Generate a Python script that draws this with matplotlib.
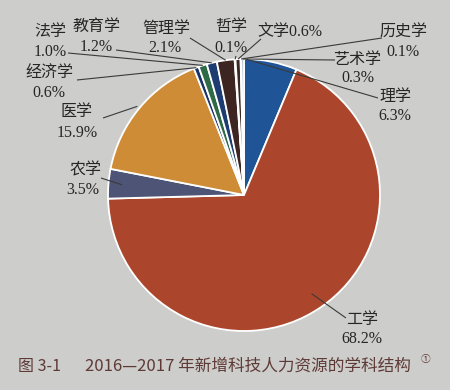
import matplotlib
matplotlib.use("Agg")
import matplotlib.pyplot as plt
import numpy as np

# ---- data ----
categories = ["理学", "工学", "农学", "医学", "经济学", "法学", "教育学",
              "管理学", "哲学", "文学", "历史学", "艺术学"]
shares = [6.3, 68.2, 3.5, 15.9, 0.6, 1.0, 1.2, 2.1, 0.1, 0.6, 0.1, 0.3]
share_labels = ["6.3%", "68.2%", "3.5%", "15.9%", "0.6%", "1.0%", "1.2%",
                "2.1%", "0.1%", "0.6%", "0.1%", "0.3%"]
title_prefix = "图 3-1"
title_text = "2016—2017 年新增科技人力资源的学科结构"

# ---- styles ----
colors = ["#1f5596", "#ab462d", "#4d5475", "#cf8c36", "#1b3468", "#2d6a45",
          "#1c3c72", "#3d2522", "#ececec", "#3a2a25", "#e4e4e4", "#9aa7b8"]
bg = "#cdcdcb"
W, H = 450, 390
CX, CY, R = 244, 195, 136

def P(x, y):
    return x, H - y

fig = plt.figure(figsize=(4.5, 3.9), dpi=100, facecolor=bg)
ax = fig.add_axes([0, 0, 1, 1])
ax.set_facecolor(bg)

wedges, _ = ax.pie(shares, colors=colors, startangle=90, counterclock=False,
                   center=P(CX, CY), radius=R, frame=True,
                   wedgeprops=dict(edgecolor="white", linewidth=1.3))
ax.set_xlim(0, W)
ax.set_ylim(0, H)
ax.set_aspect("equal")
ax.axis("off")

fam = ["Liberation Serif", "Noto Sans CJK SC"]
tc = "#262626"
fs = 11.5

# label layout: (name xy, value xy or None for inline, line start, angle frac, radial frac)
layout = {
    "理学":   ((395, 97), (395, 116), (378, 98), 0.97, 1.0),
    "工学":   ((362, 320), (362, 339), (346, 318), 0.5, 0.88),
    "农学":   ((85, 170), (83, 190), (101, 178), 0.5, 0.9),
    "医学":   ((77, 112), (77, 133), (103, 118), 0.5, 1.02),
    "经济学": ((49, 73), (49, 93), (77, 80), 0.5, 1.0),
    "法学":   ((50, 32), (50, 52), (68, 53), 0.5, 1.0),
    "教育学": ((96, 27), (96, 47), (116, 50), 0.5, 1.0),
    "管理学": ((166, 29), (165, 48), (190, 38), 0.5, 1.0),
    "哲学":   ((231, 27), (231, 48), (236, 56), 0.5, 1.0),
    "文学":   ((290, 32), None, (261, 39), 0.5, 1.0),
    "历史学": ((403, 33), (403, 52), (382, 38), 0.5, 1.0),
    "艺术学": ((357, 60), (358, 78), (335, 60), 0.5, 1.0),
}

for w, name, lab in zip(wedges, categories, share_labels):
    nxy, vxy, ls, af, rf = layout[name]
    if vxy is None:
        ax.text(*P(*nxy), name + lab, ha="center", va="center",
                fontsize=fs, family=fam, color=tc)
    else:
        ax.text(*P(*nxy), name, ha="center", va="center",
                fontsize=fs, family=fam, color=tc)
        ax.text(*P(*vxy), lab, ha="center", va="center",
                fontsize=fs, family=fam, color=tc)
    th = np.deg2rad(w.theta1 + af * (w.theta2 - w.theta1))
    ex = w.center[0] + rf * w.r * np.cos(th)
    ey = w.center[1] + rf * w.r * np.sin(th)
    sx, sy = P(*ls)
    ax.plot([sx, ex], [sy, ey], color="#3a3a3a", lw=0.8, solid_capstyle="butt")

title_color = "#5e3a36"
tfam = ["Noto Sans CJK SC", "DejaVu Sans"]
ax.text(*P(18, 366), title_prefix, ha="left", va="center", fontsize=11.5,
        family=tfam, color=title_color)
ax.text(*P(85, 366), title_text, ha="left", va="center", fontsize=12,
        family=tfam, color=title_color)
ax.text(*P(426, 359), "①", ha="center", va="center", fontsize=7,
        family=tfam, color=title_color)

fig.savefig("out.png", dpi=100, facecolor=bg)
